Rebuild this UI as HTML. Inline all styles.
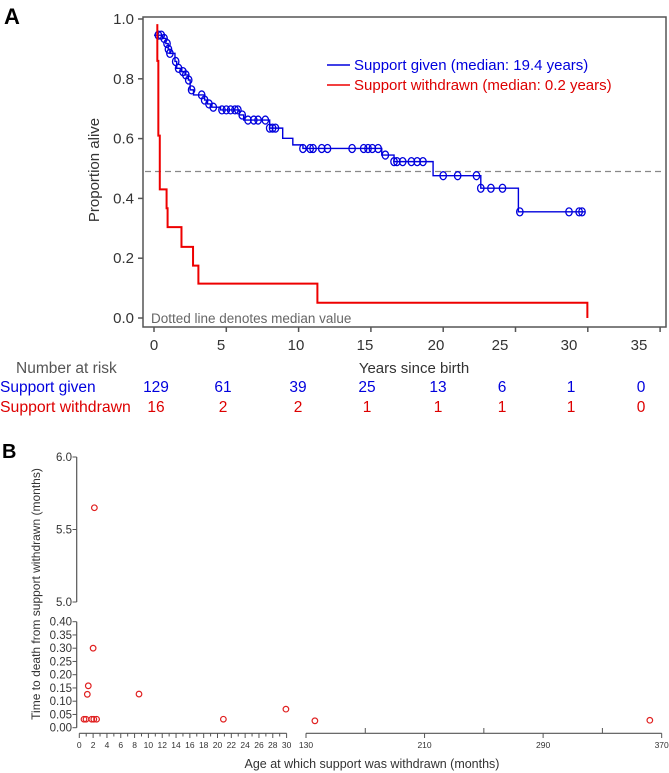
<!DOCTYPE html>
<html><head><meta charset="utf-8">
<style>
html,body{margin:0;padding:0;background:#fff;}
svg{display:block;font-family:"Liberation Sans",sans-serif;}
</style></head>
<body>
<svg id="c" width="669" height="773" viewBox="0 0 669 773" xmlns="http://www.w3.org/2000/svg"></svg>
<script>
// ---------- Panel A data ----------
const blueStepTimes = [0,0.6,0.82,0.98,1.1,1.45,1.57,1.92,2.15,2.38,2.5,2.73,3.5,3.7,4.0,4.6,5.9,6.2,8.0,8.9,9.6,10.3,15.75,16.6,19.3,22.6,25.2];
const blueStepSurv  = [0.946,0.935,0.918,0.899,0.885,0.858,0.835,0.824,0.813,0.796,0.763,0.746,0.729,0.716,0.705,0.696,0.679,0.662,0.635,0.601,0.579,0.567,0.545,0.523,0.476,0.434,0.355];
const blueEndTime = 29.8;
const blueCensor = [0.3,0.5,0.7,0.9,1.0,1.1,1.5,1.7,2.0,2.2,2.4,2.6,3.3,3.5,3.8,4.1,4.7,5.0,5.3,5.6,5.8,6.1,6.5,6.9,7.2,7.7,8.0,8.2,8.4,10.3,10.8,11.0,11.6,12.0,13.7,14.5,14.8,15.1,15.5,16.0,16.6,16.8,17.2,17.8,18.2,18.6,20.0,21.0,22.3,22.6,23.3,24.1,25.3,28.7,29.4,29.6];
const redStepTimes = [0.23,0.23,0.3,0.4,0.87,0.94,1.9,2.7,3.07,11.3,29.97];
const redStepSurv  = [0.983,0.86,0.61,0.43,0.367,0.304,0.238,0.175,0.115,0.051,0.0];
const xTickVals = [0,5,10,15,20,25,30,35];
const yTickVals = [0.0,0.2,0.4,0.6,0.8,1.0];
const riskGiven = [129,61,39,25,13,6,1,0];
const riskWithdrawn = [16,2,2,1,1,1,1,0];
const medianSurv = 0.49;
// ---------- Panel B data ----------
const ageMonths = [0.68,0.97,1.8,2.1,2.5,1.16,1.3,2.0,2.18,8.64,20.85,29.9,136,362];
const timeToDeath = [0.032,0.032,0.032,0.032,0.032,0.126,0.158,0.30,5.65,0.127,0.032,0.07,0.026,0.028];
const bLowTicks = [0,0.05,0.10,0.15,0.20,0.25,0.30,0.35,0.40];
const bHighTicks = [5.0,5.5,6.0];

const NS="http://www.w3.org/2000/svg";
const svg=document.getElementById('c');
function mk(tag,attrs,parent){const e=document.createElementNS(NS,tag);for(const k in attrs)e.setAttribute(k,attrs[k]);(parent||svg).appendChild(e);return e;}
function txt(s,attrs,parent){const e=mk('text',attrs,parent);e.textContent=s;return e;}

// ---------- Panel A ----------
const X=t=>154+14.46*t;
const Y=v=>318-299*v;
const gA=mk('g',{});


let e=txt('A',{x:4,y:24,'font-size':22,'font-weight':'bold',fill:'#000'},gA);


e=mk('rect',{x:143,y:17,width:523,height:310,fill:'none',stroke:'#555','stroke-width':1.5},gA);


yTickVals.forEach(v=>{
  const t=mk('line',{x1:138,x2:143,y1:Y(v),y2:Y(v),stroke:'#555','stroke-width':1.5},gA);
  
  
  const l=txt(v.toFixed(1),{x:134,y:Y(v)+5,'text-anchor':'end','font-size':15,fill:'#333'},gA);
  
  
});
const xLabelPos=[154,221,296,365,436,500,569,639];
xTickVals.forEach((v,i)=>{
  const t=mk('line',{x1:X(v),x2:X(v),y1:327,y2:332,stroke:'#555','stroke-width':1.5},gA);
  
  
  const l=txt(String(v),{x:xLabelPos[i],y:350,'text-anchor':'middle','font-size':15,fill:'#333'},gA);
  
  
  const a=txt(String(riskGiven[i]),{x:xLabelPos[i]+2,y:392,'text-anchor':'middle','font-size':15.5,fill:'#0000dd'},gA);
  
  
  const b=txt(String(riskWithdrawn[i]),{x:xLabelPos[i]+2,y:412,'text-anchor':'middle','font-size':15.5,fill:'#dd0000'},gA);
  
  
});
e=txt('Years since birth',{x:414,y:373,'text-anchor':'middle','font-size':15,fill:'#333'},gA);


e=txt('Proportion alive',{x:0,y:0,'text-anchor':'middle','font-size':15,fill:'#333',transform:'translate(99,170) rotate(-90)'},gA);


e=txt('Number at risk',{x:16,y:373,'font-size':15.5,fill:'#555'},gA);


e=txt('Support given',{x:0,y:392,'font-size':15.5,fill:'#0000dd'},gA);


e=txt('Support withdrawn',{x:0,y:412,'font-size':15.8,fill:'#dd0000'},gA);


e=mk('line',{x1:145,x2:664,y1:Y(medianSurv),y2:Y(medianSurv),stroke:'#888','stroke-width':1.2,'stroke-dasharray':'6,4'},gA);


e=txt('Dotted line denotes median value',{x:151,y:323,'font-size':13.5,fill:'#666'},gA);


let d='M'+X(blueStepTimes[0])+','+Y(blueStepSurv[0]);
for(let i=1;i<blueStepTimes.length;i++){d+=' H'+X(blueStepTimes[i])+' V'+Y(blueStepSurv[i]);}
d+=' H'+X(blueEndTime);
e=mk('path',{d:d,fill:'none',stroke:'#0000dd','stroke-width':1.4},gA);


function survAt(t){let s=blueStepSurv[0];for(let i=0;i<blueStepTimes.length;i++){if(blueStepTimes[i]<=t)s=blueStepSurv[i];}return s;}
blueCensor.forEach(t=>{
  const c=mk('ellipse',{cx:X(t),cy:Y(survAt(t)),rx:3.2,ry:4,fill:'none',stroke:'#0000dd','stroke-width':1.3},gA);
  
  
});
d='M'+X(redStepTimes[0])+','+Y(redStepSurv[0]);
for(let i=1;i<redStepTimes.length;i++){d+=' H'+X(redStepTimes[i])+' V'+Y(redStepSurv[i]);}
e=mk('path',{d:d,fill:'none',stroke:'#ee0000','stroke-width':2},gA);


e=mk('line',{x1:327,x2:350,y1:65,y2:65,stroke:'#0000dd','stroke-width':1.5},gA);


e=txt('Support given (median: 19.4 years)',{x:354,y:70,'font-size':15,fill:'#0000dd'},gA);


e=mk('line',{x1:327,x2:350,y1:85,y2:85,stroke:'#ee0000','stroke-width':1.5},gA);


e=txt('Support withdrawn (median: 0.2 years)',{x:354,y:90,'font-size':15,fill:'#dd0000'},gA);



// ---------- Panel B ----------
const gB=mk('g',{});


e=txt('B',{x:2,y:458,'font-size':20,'font-weight':'bold',fill:'#000'},gB);


const yLow=v=>727.7-265*v;
const yHigh=v=>602-145*(v-5);
const BX=a=> a<=30 ? 79.3+6.91*a : 306+1.482*(a-130);
const AX='#555';
e=mk('line',{x1:76.7,x2:76.7,y1:yHigh(6),y2:yHigh(5),stroke:AX,'stroke-width':1.2},gB);


e=mk('line',{x1:76.7,x2:76.7,y1:yLow(0.4),y2:yLow(0),stroke:AX,'stroke-width':1.2},gB);


bHighTicks.forEach(v=>{
  const t=mk('line',{x1:72.5,x2:76.7,y1:yHigh(v),y2:yHigh(v),stroke:AX,'stroke-width':1},gB);
  
  
  const l=txt(v.toFixed(1),{x:72,y:yHigh(v)+4,'text-anchor':'end','font-size':11.5,fill:'#333'},gB);
  
  
});
bLowTicks.forEach(v=>{
  const t=mk('line',{x1:72.5,x2:76.7,y1:yLow(v),y2:yLow(v),stroke:AX,'stroke-width':1},gB);
  
  
  const l=txt(v.toFixed(2),{x:72,y:yLow(v)+4,'text-anchor':'end','font-size':11.5,fill:'#333'},gB);
  
  
});
e=txt('Time to death from support withdrawn (months)',{x:0,y:0,'text-anchor':'middle','font-size':12,fill:'#333',transform:'translate(40,594) rotate(-90)'},gB);


e=mk('line',{x1:BX(0),x2:BX(30),y1:733.3,y2:733.3,stroke:AX,'stroke-width':1.2},gB);


e=mk('line',{x1:BX(130),x2:BX(370),y1:733.3,y2:733.3,stroke:AX,'stroke-width':1.2},gB);


for(let m=0;m<=30;m++){
  const t=mk('line',{x1:BX(m),x2:BX(m),y1:733.3,y2:m%2===0?738:736.5,stroke:AX,'stroke-width':1},gB);
  
  
  if(m%2===0){
    const l=txt(String(m),{x:BX(m),y:748,'text-anchor':'middle','font-size':8.5,fill:'#333'},gB);
    
    
  }
}
for(let m=130;m<=370;m+=40){
  const major=((m-130)%80===0);
  const t=mk('line',{x1:BX(m),x2:BX(m),y1:major?738:728,y2:733.3,stroke:AX,'stroke-width':1},gB);
  
  
  if(major){
    const l=txt(String(m),{x:BX(m),y:748,'text-anchor':'middle','font-size':8.5,fill:'#333'},gB);
    
    
  }
}
e=txt('Age at which support was withdrawn (months)',{x:372,y:768,'text-anchor':'middle','font-size':12.5,fill:'#333'},gB);


ageMonths.forEach((a,i)=>{
  const v=timeToDeath[i];
  const cy= v>=5 ? yHigh(v) : yLow(v);
  const p=mk('circle',{cx:BX(a),cy:cy,r:2.8,fill:'none',stroke:'#e02020','stroke-width':1.2},gB);
  
  
});
</script>
</body></html>
